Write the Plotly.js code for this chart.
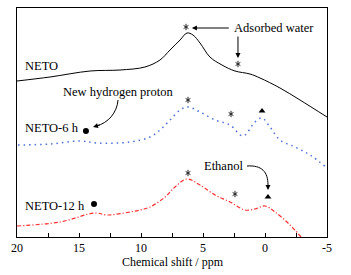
<!DOCTYPE html>
<html>
<head>
<meta charset="utf-8">
<script src="https://cdn.plot.ly/plotly-3.0.1.min.js"></script>
<style>html,body{margin:0;padding:0;background:#fff;}#chart{width:351px;height:275px;}</style>
</head>
<body>
<div id="chart"></div>
<script>
// Chemical shift (ppm) and relative intensity (arbitrary, offset per trace)
const netoShift = [20, 17.34, 14.11, 11.69, 9.68, 8.47, 7.66, 6.85, 6.29, 5.81, 5.24, 4.44, 3.47, 2.42, 1.21, 0.40, -1.21, -2.82, -5];
const netoVal   = [156, 160, 166, 167, 170, 177, 187, 197, 204, 202, 194, 180, 172, 166, 163, 159, 149, 137, 120];

const neto6Shift = [19.92, 17.34, 14.92, 13.55, 10.89, 9.27, 8.47, 7.66, 6.85, 6.21, 5.24, 4.03, 2.82, 1.77, 0.81, 0.24, -0.40, -1.21, -2.42, -3.63, -5];
const neto6Val   = [92, 93, 96, 94, 95, 100, 107, 117, 127, 130, 125, 117, 112, 101, 115, 119, 110, 97, 90, 82, 69];

const neto12Shift = [20, 16.53, 13.71, 12.74, 10.89, 10.08, 9.27, 8.06, 7.26, 6.29, 5.24, 4.03, 2.82, 1.61, 0.81, 0, -0.81, -2.02, -2.98, -3.5];
const neto12Val   = [11, 15, 24, 22, 25, 27, 30, 40, 50, 58, 52, 42, 35, 27, 28, 31, 25, 12, -1, -8];

// Peak markers (asterisk = adsorbed water, triangle = ethanol, dot = new hydrogen proton)
const waterShift = [6.37, 2.18, 6.21, 2.74, 6.21, 2.42];
const waterVal   = [210, 173, 137, 123, 64, 43];
const ethanolShift = [0.24, -0.24];
const ethanolVal   = [126, 40];
const protonShift = [14.44, 13.79];
const protonVal   = [106, 33];

const tickVals = [20, 15, 10, 5, 0, -5];
const tickText = ['20', '15', '10', '5', '0', '-5'];

const FONT = 'Liberation Serif, Times New Roman, serif';

const astMarker = (sym) => ({symbol: sym, size: 4, color: '#222', line: {width: 1, color: '#222'}});

const traces = [
  {x: netoShift, y: netoVal, mode: 'lines', line: {color: '#000', width: 1, shape: 'spline', smoothing: 1}, hoverinfo: 'skip'},
  {x: neto6Shift, y: neto6Val, mode: 'lines', line: {color: '#4a6fd6', width: 1.5, dash: '1.5px,4px', shape: 'spline', smoothing: 1}, hoverinfo: 'skip'},
  {x: neto12Shift, y: neto12Val, mode: 'lines', line: {color: '#ff3030', width: 1.2, dash: '4px,2px,1.2px,2px', shape: 'spline', smoothing: 1}, hoverinfo: 'skip'},
  {x: waterShift, y: waterVal, mode: 'markers', marker: astMarker('y-up-open'), hoverinfo: 'skip'},
  {x: waterShift, y: waterVal, mode: 'markers', marker: astMarker('y-down-open'), hoverinfo: 'skip'},
  {x: ethanolShift, y: ethanolVal, mode: 'markers', marker: {symbol: 'triangle-up', size: 6, color: '#000'}, hoverinfo: 'skip'},
  {x: protonShift, y: protonVal, mode: 'markers', marker: {symbol: 'circle', size: 6, color: '#000'}, hoverinfo: 'skip'}
];

const txt = (text, x, y, xanchor) => ({text, x, y, xref: 'x', yref: 'y', showarrow: false, xanchor: xanchor || 'left', yanchor: 'middle', font: {family: FONT, size: 12.5, color: '#000'}});
const arr = (x, y, ax, ay) => ({text: '', x, y, ax, ay, xref: 'x', yref: 'y', axref: 'x', ayref: 'y', showarrow: true, arrowhead: 2, arrowsize: 1, arrowwidth: 1, arrowcolor: '#000'});

const annotations = [
  txt('NETO', 19.5, 171),
  txt('New hydrogen proton', 11.85, 145, 'center'),
  txt('NETO-6 h', 19.5, 109),
  txt('NETO-12 h', 19.5, 31),
  txt('Adsorbed water', 2.7, 209),
  txt('Ethanol', 3.31, 71, 'center'),
  arr(5.89, 209, 2.8, 209),
  arr(2.18, 179, 2.18, 202),
  arr(13.87, 110, 13.2, 112.5),
  arr(-0.24, 47, -0.24, 53),
  {text: 'Chemical shift / ppm', xref: 'paper', yref: 'paper', x: 0.503, y: -0.107, xanchor: 'center', yanchor: 'middle',
   showarrow: false, font: {family: FONT, size: 12, color: '#000'}}
];

const shapes = [
  {type: 'path', xref: 'x', yref: 'y', path: 'M 11.85,137 C 11.94,124 12.66,114 13.6,111', line: {color: '#000', width: 1}},
  {type: 'path', xref: 'x', yref: 'y', path: 'M 1.45,71 C 0.24,72 -0.24,65 -0.24,52', line: {color: '#000', width: 1}}
];

const layout = {
  width: 351, height: 275,
  margin: {l: 17, r: 24, t: 8, b: 38},
  paper_bgcolor: '#fff', plot_bgcolor: '#fff',
  showlegend: false,
  font: {family: FONT, size: 12, color: '#000'},
  xaxis: {
    range: [20, -5], tickvals: tickVals, ticktext: tickText,
    ticks: 'inside', ticklen: 4, tickwidth: 1, tickcolor: '#000',
    minor: {dtick: 2.5, tick0: 0, ticks: 'inside', ticklen: 4, tickcolor: '#000', showgrid: false},
    showline: true, linecolor: '#000', linewidth: 1, mirror: true,
    showgrid: false, zeroline: false,
    tickfont: {family: FONT, size: 12, color: '#000'}
  },
  yaxis: {
    range: [0, 229], showticklabels: false, ticks: '',
    showline: true, linecolor: '#000', linewidth: 1, mirror: true,
    showgrid: false, zeroline: false
  },
  annotations, shapes
};

Plotly.newPlot('chart', traces, layout, {staticPlot: true, displayModeBar: false});
</script>
</body>
</html>
